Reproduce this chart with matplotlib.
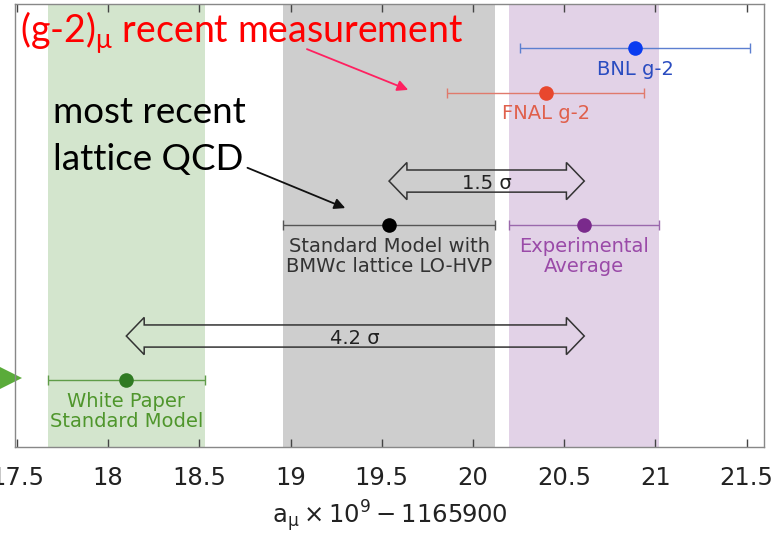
import matplotlib
matplotlib.use("Agg")
import matplotlib.pyplot as plt
from matplotlib.patches import Polygon

# central values and errors (a_mu x 1e9 - 1165900)
names = ["BNL g-2", "FNAL g-2", "Standard Model with\nBMWc lattice LO-HVP",
         "Experimental\nAverage", "White Paper\nStandard Model"]
values = [20.89, 20.40, 19.54, 20.61, 18.10]
errors = [0.63, 0.54, 0.58, 0.41, 0.43]
rows = [9.0, 8.0, 5.0, 5.0, 1.5]
dot_colors = ["#0a3cf0", "#e8472e", "#000000", "#7a2a8c", "#2f7a22"]
bar_colors = ["#5c7fd0", "#e07a6c", "#555555", "#9a68ac", "#5f9c48"]
text_colors = ["#2a4cc0", "#e0604c", "#333333", "#9a4aa8", "#4f962c"]

# shaded bands: SM WP, SM BMWc, experimental average
band_idx = [4, 2, 3]
band_colors = ["#d3e5cd", "#cecece", "#e2d2e7"]

# tension arrows (from index, to index, label, row)
tensions = [(2, 3, "1.5 \u03c3", 6.0), (4, 3, "4.2 \u03c3", 2.5)]

xticks = [17.5, 18, 18.5, 19, 19.5, 20, 20.5, 21, 21.5]

plt.rcParams['font.family'] = ['DejaVu Sans']

fig = plt.figure(figsize=(7.78, 5.38), dpi=100)
ax = fig.add_axes([0.0193, 0.1697, 0.9627, 0.8229])
ax.set_xlim(17.49, 21.595)
ax.set_ylim(0, 10)

for i, c in zip(band_idx, band_colors):
    ax.axvspan(values[i] - errors[i], values[i] + errors[i], color=c, lw=0, zorder=0)

for v, e, r, dc, bc, tc, n in zip(values, errors, rows, dot_colors, bar_colors, text_colors, names):
    ax.errorbar(v, r, xerr=e, fmt='none', ecolor=bc, elinewidth=1.0, capsize=3.5, capthick=1.0, zorder=2)
    ax.plot(v, r, 'o', color=dc, ms=10.5, mew=0, zorder=3)
    ax.text(v, r - 0.27, n, ha='center', va='top', color=tc, fontsize=14, linespacing=1.05, zorder=3)

# hollow double-headed block arrows
head_len = 0.098
body_h = 0.25
head_h = 0.42
for a, b, lab, r in tensions:
    x0, x1 = sorted([values[a], values[b]])
    pts = [(x0, r), (x0 + head_len, r + head_h), (x0 + head_len, r + body_h),
           (x1 - head_len, r + body_h), (x1 - head_len, r + head_h), (x1, r),
           (x1 - head_len, r - head_h), (x1 - head_len, r - body_h),
           (x0 + head_len, r - body_h), (x0 + head_len, r - head_h)]
    ax.add_patch(Polygon(pts, closed=True, fill=False, ec="#333333", lw=1.1, zorder=4))
    ax.text((x0 + x1) / 2, r - 0.05, lab, ha='center', va='center', fontsize=14, color="#222222", zorder=4)

# green arrow tip sticking out on the left
ax.plot(17.466, rows[4] + 0.05, '>', color="#5aab3a", ms=16, mew=0, clip_on=False, zorder=2)

big = ['Lato', 'DejaVu Sans']
ax.text(17.52, 9.36, r"(g-2)$_\mathregular{\mu}$ recent measurement", color="#ff0000",
        fontsize=27, family=big, va='center', ha='left')
ax.annotate("", xy=(19.645, 8.06), xytext=(19.09, 8.98),
            arrowprops=dict(arrowstyle="-|>", color="#ff2060", lw=1.3, shrinkA=0, shrinkB=0,
                            mutation_scale=16))
ax.text(17.70, 7.02, "most recent\nlattice QCD", color="#000000", fontsize=26.5, family=big,
        va='center', ha='left', linespacing=1.5)
ax.annotate("", xy=(19.30, 5.39), xytext=(18.764, 6.30),
            arrowprops=dict(arrowstyle="-|>", color="#111111", lw=1.3, shrinkA=0, shrinkB=0,
                            mutation_scale=16))

ax.set_xticks(xticks)
ax.set_xticklabels([f"{t:g}" for t in xticks])
ax.set_yticks([])
ax.tick_params(axis='x', direction='in', length=6, width=1.0, color="#444444",
               top=True, labelsize=17.5, pad=14, labelcolor="#222222")
for s in ax.spines.values():
    s.set_color("#888888")
    s.set_linewidth(1.0)
ax.set_xlabel(r"$\mathregular{a_\mu \times 10^9 - 1165900}$", fontsize=17.5, labelpad=6, color="#222222")

fig.savefig("out.png", dpi=100)
